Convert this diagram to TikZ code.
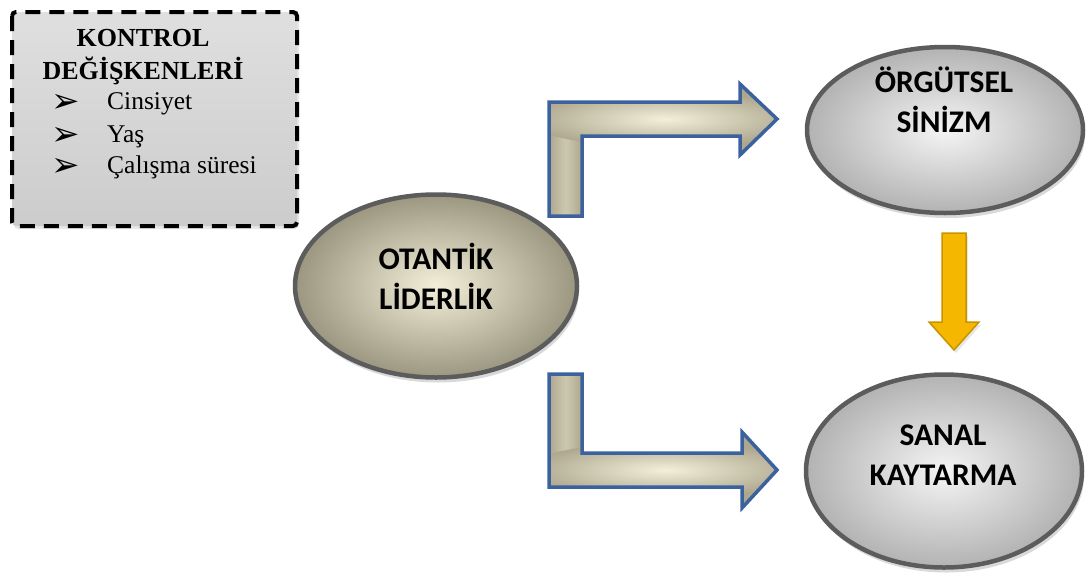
\documentclass[tikz,border=0pt]{standalone}
\usepackage{fontspec}
\setmainfont{Liberation Serif}
\newfontfamily\calibri{Carlito}
\newfontfamily\dejavu{DejaVu Sans}
\usetikzlibrary{shapes.geometric,shadows}

\definecolor{taupe}{HTML}{ADA78E}
\definecolor{taupelight}{HTML}{F3EFD9}
\definecolor{arrowblue}{HTML}{3B629E}
\definecolor{rimgray}{HTML}{5C5C5C}
\definecolor{gold}{HTML}{F5B700}
\definecolor{golddark}{HTML}{C99300}

\tikzset{
  concept/.style={ellipse, draw=rimgray, line width=4.5pt, inner sep=0pt,
    drop shadow={opacity=0.3, shadow xshift=2pt, shadow yshift=-5pt}},
  conceptfont/.style={align=center, font=\calibri\bfseries\fontsize{31.5}{40}\selectfont},
  heading/.style={anchor=base, inner sep=0pt, font=\bfseries\fontsize{26}{30}\selectfont},
  item/.style={anchor=base west, inner sep=0pt, font=\fontsize{25.5}{28}\selectfont},
  bulletmark/.style={anchor=base west, inner sep=0pt, font=\dejavu\fontsize{34}{36}\selectfont},
  bentarrow/.style={draw=arrowblue, line width=3.5pt, line join=miter},
}

\begin{document}
\begin{tikzpicture}[x=1pt,y=-1pt]
  \useasboundingbox (0,0) rectangle (1089,581);

  % kontrol degiskenleri
  \draw[black, line width=4pt, dash pattern=on 15pt off 9pt, rounded corners=4pt,
    top color=gray!25, bottom color=gray!40,
    drop shadow={opacity=0.2, shadow xshift=2pt, shadow yshift=-3pt}]
    (12,12) rectangle (297,226);
  \node[heading] (kontrol) at (143,46) {KONTROL};
  \node[heading] (degisken) at (143,79) {DEĞİŞKENLERİ};
  \foreach \yy/\txt/\nm in {109/Cinsiyet/cinsiyet, 142/Yaş/yas, 173/Çalışma süresi/sure}{
    \node[bulletmark] (\nm mark) at (51,\yy+3) {➢};
    \node[item] (\nm) at (107,\yy) {\txt};
  }

  % bent arrows
  \begin{scope}
    \clip (549,216) -- (549,102) -- (740,102) -- (740,84) -- (777,119) -- (740,155)
      -- (740,136) -- (582,136) -- (582,216) -- cycle;
    \fill[taupe] (540,80) rectangle (780,220);
    \shade[left color=taupe, right color=taupe, middle color=taupelight!45!taupe]
      (549,100) rectangle (582,216);
    \shade[inner color=taupelight, outer color=taupe] (665,119) ellipse (140 and 28);
  \end{scope}
  \draw[bentarrow] (549,216) -- (549,102) -- (740,102) -- (740,84) -- (777,119)
    -- (740,155) -- (740,136) -- (582,136) -- (582,216) -- cycle;

  \begin{scope}
    \clip (549,374) -- (549,487) -- (742,487) -- (742,508) -- (777,470) -- (742,432)
      -- (742,453) -- (582,453) -- (582,374) -- cycle;
    \fill[taupe] (540,370) rectangle (780,512);
    \shade[left color=taupe, right color=taupe, middle color=taupelight!45!taupe]
      (549,374) rectangle (582,489);
    \shade[inner color=taupelight, outer color=taupe] (665,470) ellipse (140 and 28);
  \end{scope}
  \draw[bentarrow] (549,374) -- (549,487) -- (742,487) -- (742,508) -- (777,470)
    -- (742,432) -- (742,453) -- (582,453) -- (582,374) -- cycle;

  % ellipses
  \node[concept, minimum width=282pt, minimum height=183pt,
    inner color=taupelight, outer color=taupe!90!black] (otantik) at (436,286) {};
  \node[conceptfont] (otantiktext) at (436,276) {OTANTİK\\LİDERLİK};

  \node[concept, minimum width=276pt, minimum height=166pt,
    inner color=gray!8, outer color=gray!60] (orgutsel) at (945,130) {};
  \node[conceptfont] (orgutseltext) at (944,100) {ÖRGÜTSEL\\SİNİZM};

  \node[concept, minimum width=276pt, minimum height=193pt,
    inner color=gray!8, outer color=gray!60] (sanal) at (944,471) {};
  \node[conceptfont] (sanaltext) at (943,455) {SANAL\\KAYTARMA};

  % yellow arrow
  \draw[fill=gold, draw=golddark, line width=1.5pt,
    drop shadow={opacity=0.2, shadow xshift=2pt, shadow yshift=-3pt}]
    (942,233) -- (966,233) -- (966,322) -- (979,322) -- (954,350) -- (929,322)
    -- (942,322) -- cycle;
\end{tikzpicture}
\end{document}
